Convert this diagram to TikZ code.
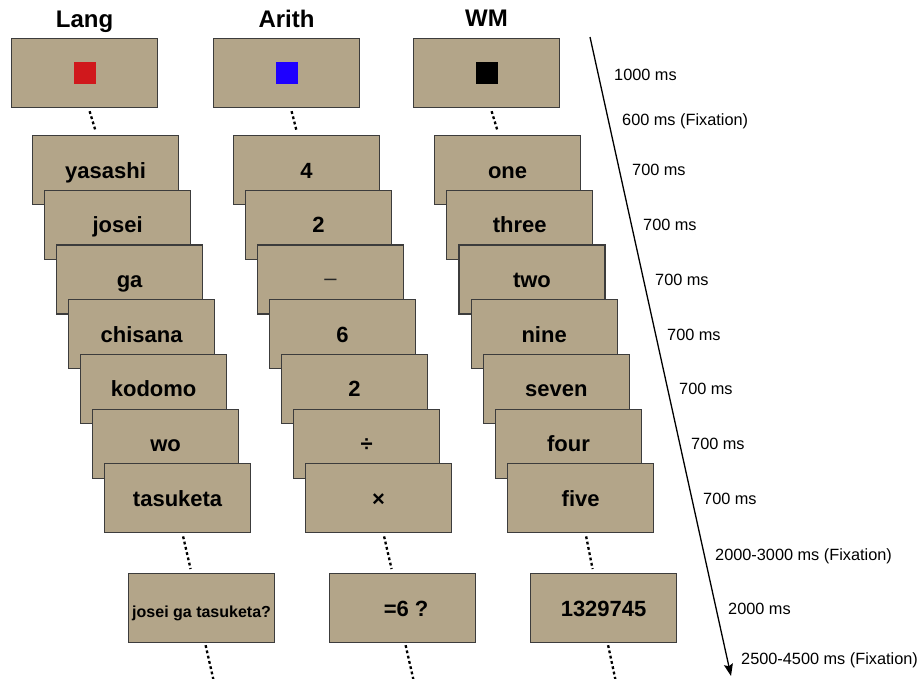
\documentclass[tikz,border=0pt]{standalone}
\usepackage{fontspec}
\setmainfont{Liberation Sans}
\usetikzlibrary{arrows.meta}
\definecolor{boxfill}{RGB}{179,165,137}
\definecolor{boxline}{RGB}{60,60,60}
\definecolor{cuered}{RGB}{208,24,28}
\definecolor{cueblue}{RGB}{30,0,255}
\begin{document}
\begin{tikzpicture}[x=1pt,y=-1pt,
  card/.style={draw=boxline, fill=boxfill, line width=1.2pt, minimum width=146pt, minimum height=69pt,
    inner sep=0pt, anchor=north west, font=\fontsize{22}{24}\selectfont\bfseries, text height=15.8pt, text depth=0pt},
  qcard/.style={card, font=\fontsize{16}{18}\selectfont\bfseries, text height=14pt},
  cue/.style={minimum size=22pt, inner sep=0pt, draw=none},
  title/.style={anchor=base, inner sep=0pt, font=\fontsize{24}{26}\selectfont\bfseries},
  timelbl/.style={anchor=base west, inner sep=0pt, font=\fontsize{16.3}{18}\selectfont},
  link/.style={line width=2.3pt, dash pattern=on 2.8pt off 2.6pt}]
\useasboundingbox (0,0) rectangle (920,678);
% titles
\node[title] (tLang) at (84.5,27) {Lang};
\node[title] (tArith) at (286.5,27) {Arith};
\node[title] (tWM) at (486.5,26) {WM};
% cue boxes
\node[card] (TL) at (11,38) {};
\node[card] (TA) at (213,38) {};
\node[card] (TW) at (413,38) {};
\node[cue, fill=cuered] (cL) at (TL.center) {};
\node[cue, fill=cueblue] (cA) at (TA.center) {};
\node[cue, fill=black] (cW) at (TW.center) {};
% Lang stack
\foreach \i/\w in {0/yasashi,1/josei,2/ga,3/chisana,4/kodomo,5/wo,6/tasuketa}{
  \node[card] (L\i) at ({32+12*\i},{135+54.7*\i}) {\w};
}
% Arith stack
\node[card] (A0) at (233,135) {4};
\node[card] (A1) at (245,189.7) {2};
\node[card, font=\fontsize{22}{24}\selectfont, text=black!85, text height=11pt] (A2) at (257,244.4) {–};
\node[card] (A3) at (269,299.1) {6};
\node[card] (A4) at (281,353.8) {2};
\node[card] (A5) at (293,408.5) {÷};
\node[card] (A6) at (305,463.2) {×};
% WM stack
\foreach \i/\w in {0/one,1/three,2/two,3/nine,4/seven,5/four,6/five}{
  \node[card] (W\i) at ({434+12.17*\i},{135+54.7*\i}) {\w};
}
% final probe boxes
\node[qcard] (FL) at (128,573) {\raisebox{-2pt}{josei ga tasuketa?}};
\node[card] (FA) at (329,573) {\hspace*{7pt}=6 ?};
\node[card] (FW) at (530,573) {1329745};
% connectors
\foreach \t/\s in {TL/L0,TA/A0,TW/W0}{
  \draw[link] ([shift={(5,3)}]\t.south) -- ([shift={(-10,-4)}]\s.north);
}
\foreach \t/\s in {L6/FL,A6/FA,W6/FW}{
  \draw[link] ([shift={(5.5,3)}]\t.south) -- ([shift={(-11,-4)}]\s.north);
}
\coordinate (eL) at (213.5,680);
\coordinate (eA) at (413.5,680);
\coordinate (eW) at (615.5,680);
\draw[link] ([shift={(4,2)}]FL.south) -- (eL);
\draw[link] ([shift={(3,2)}]FA.south) -- (eA);
\draw[link] ([shift={(4.5,2)}]FW.south) -- (eW);
% time axis
\coordinate (tS) at (590,37);
\coordinate (tE) at (731,676);
\draw[line width=1.3pt, -{Stealth[length=12pt,width=9pt,inset=2pt]}] (tS) -- (tE);
\node[timelbl] (d0) at (614,80) {1000 ms};
\node[timelbl] (d1) at (622,125) {600 ms (Fixation)};
\node[timelbl] (d2) at (632,175) {700 ms};
\node[timelbl] (d3) at (643,230) {700 ms};
\node[timelbl] (d4) at (655,285) {700 ms};
\node[timelbl] (d5) at (667,340) {700 ms};
\node[timelbl] (d6) at (679,394) {700 ms};
\node[timelbl] (d7) at (691,449) {700 ms};
\node[timelbl] (d8) at (703,504) {700 ms};
\node[timelbl] (d9) at (715,560) {2000-3000 ms (Fixation)};
\node[timelbl] (d10) at (728,614) {2000 ms};
\node[timelbl] (d11) at (741,664) {2500-4500 ms (Fixation)};
\end{tikzpicture}
\end{document}
